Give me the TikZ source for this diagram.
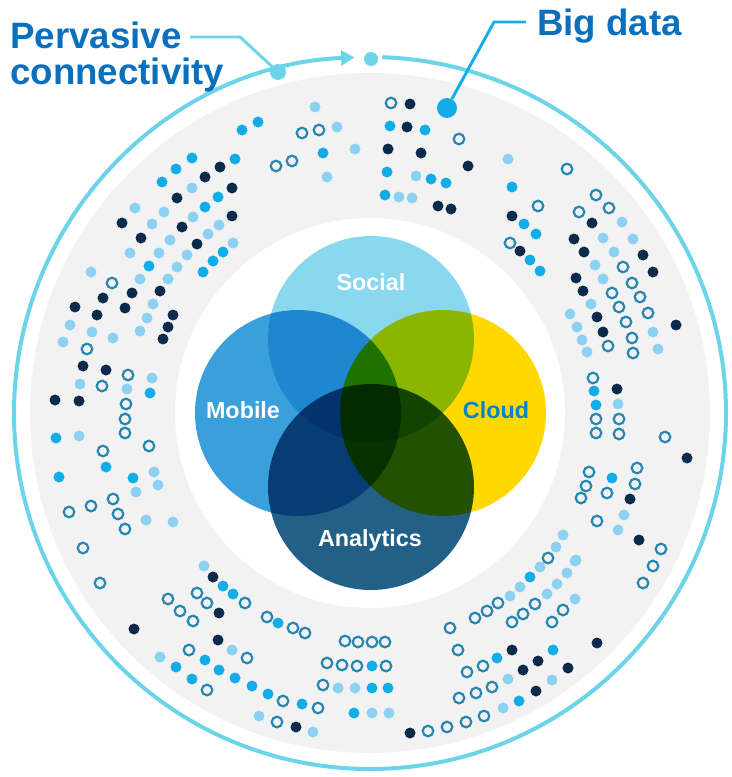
\documentclass[tikz,border=0pt]{standalone}
\usepackage{fontspec}
\setmainfont{Liberation Sans}
\usetikzlibrary{arrows.meta}

\definecolor{ringcyan}{RGB}{108,212,232}
\definecolor{labelblue}{RGB}{10,112,190}
\definecolor{bandgray}{RGB}{242,242,242}
\definecolor{navydot}{RGB}{12,42,76}
\definecolor{brightdot}{RGB}{18,172,232}
\definecolor{lightdot}{RGB}{140,208,242}
\definecolor{opendot}{RGB}{40,135,176}
\definecolor{socialc}{RGB}{138,216,240}
\definecolor{mobilec}{RGB}{58,160,220}
\definecolor{cloudc}{RGB}{255,216,0}
\definecolor{analyticsc}{RGB}{35,96,135}
\definecolor{cloudtext}{RGB}{8,130,200}

\tikzset{
  ring/.style={ringcyan, line width=3pt},
  leader/.style={ringcyan, line width=2.2pt},
  bdleader/.style={brightdot, line width=2.2pt},
  label/.style={labelblue, font=\bfseries\fontsize{27.5}{27}\selectfont, inner sep=0pt, align=left},
  venn/.style={white, font=\bfseries\fontsize{17.5}{17.5}\selectfont, inner sep=0pt},
  knob/.style={circle, fill=#1, inner sep=0pt},
  opencircle/.style={opendot, line width=1.65pt}
}

\begin{document}
\begin{tikzpicture}[x=0.75pt,y=-0.75pt]
\useasboundingbox (0,0) rectangle (731,777);
\coordinate (c) at (370,413);

% grey band and white core
\fill[bandgray] (c) circle[radius=340];
\fill[white] (c) circle[radius=195];

% outer ring, arrow at the top
\draw[ring,-{Triangle[length=10pt,width=11pt]}] (c) ++(-88:356) arc[start angle=-88,end angle=267.5,radius=356];
\node[knob=ringcyan, minimum size=10.5pt] (ringstart) at (371,59) {};

% dots in the band
\foreach \p in {(220,167),(205,177),(232,188),(177,198),(232,216),(122,223),(182,227),(141,238),(197,244),
  (160,291),(132,293),(103,298),(75,307),(97,315),(125,308),(173,315),(168,327),(163,339),(83,366),(106,370),
  (55,400),(79,401),(213,577),(219,613),(134,629),(218,640),(296,727),(410,733),(512,650),(523,670),(538,661),
  (568,668),(536,691),(597,643),(630,499),(639,540),(687,458),(512,216),(520,251),(592,223),(574,239),(584,252),
  (643,255),(653,272),(576,278),(583,291),(597,317),(676,325),(603,332),(617,389),(410,104),(407,127),(388,149),
  (421,153),(468,166),(438,206),(451,209)}
  \fill[navydot] \p circle[radius=5.5];

\foreach \p in {(242,130),(258,122),(192,158),(235,159),(176,169),(162,182),(218,197),(205,207),(223,252),
  (213,261),(203,272),(149,266),(150,393),(56,438),(106,467),(59,477),(133,478),(223,586),(233,594),(278,623),
  (205,660),(219,670),(235,678),(252,686),(268,694),(176,667),(192,679),(302,704),(372,666),(372,688),(388,688),
  (354,713),(530,577),(497,658),(553,650),(519,701),(612,478),(596,405),(512,187),(524,224),(536,234),(530,260),
  (540,271),(594,391),(323,153),(390,126),(425,130),(387,172),(431,179),(446,183),(385,195)}
  \fill[brightdot] \p circle[radius=5.5];

\foreach \p in {(192,188),(135,208),(164,212),(193,217),(152,224),(219,225),(208,234),(170,240),(233,243),
  (130,253),(159,253),(187,255),(91,272),(177,267),(140,279),(168,279),(153,304),(147,318),(70,325),(92,332),
  (113,338),(140,331),(63,342),(152,378),(80,384),(127,389),(79,436),(154,472),(158,485),(136,492),(146,520),
  (173,522),(204,566),(232,650),(160,657),(259,716),(313,732),(338,688),(355,688),(372,713),(389,713),(510,596),
  (520,587),(540,567),(547,594),(557,584),(567,573),(575,561),(575,599),(508,679),(552,680),(503,708),(618,404),
  (624,515),(618,530),(563,535),(556,547),(576,560),(508,159),(622,222),(603,238),(633,239),(614,252),(595,265),
  (603,279),(591,304),(570,314),(577,327),(653,332),(582,340),(658,349),(587,352),(315,107),(337,127),(355,149),
  (327,177),(416,176),(399,197),(412,198)}
  \fill[lightdot] \p circle[radius=5.5];

\foreach \p in {(112,283),(87,349),(128,375),(102,386),(126,404),(125,419),(125,433),(103,451),(149,446),
  (113,499),(91,506),(69,512),(118,514),(125,529),(83,548),(100,583),(168,599),(180,611),(193,621),(197,593),
  (207,603),(245,603),(267,617),(293,628),(305,633),(189,650),(247,658),(207,690),(283,701),(318,708),(277,722),
  (345,641),(358,642),(372,642),(385,642),(327,663),(342,665),(357,666),(386,666),(323,685),(450,628),(458,650),
  (475,618),(487,611),(498,603),(548,558),(512,622),(523,614),(535,604),(552,622),(563,610),(467,672),(483,666),
  (459,698),(476,693),(492,687),(428,731),(447,727),(466,722),(484,716),(643,583),(653,566),
  (661,549),(597,521),(581,498),(586,486),(589,472),(607,493),(635,484),(637,468),(665,437),(596,419),(619,419),
  (596,433),(619,434),(593,378),(608,346),(633,353),(632,338),(626,322),(648,313),(619,307),(640,297),(612,293),
  (632,283),(623,267),(579,212),(609,208),(596,195),(538,206),(510,243),(567,169),(302,133),(319,130),(276,166),
  (292,161),(391,103),(459,139)}
  \draw[opencircle] \p circle[radius=5.3];

% four overlapping circles
\begin{scope}[blend mode=multiply]
\fill[socialc] (371,339) circle[radius=103];
\fill[mobilec] (298,413) circle[radius=103];
\fill[cloudc] (443,413) circle[radius=103];
\fill[analyticsc] (371,487) circle[radius=103];
\end{scope}

\node[venn] (social) at (371,282) {Social};
\node[venn] (mobile) at (243,410) {Mobile};
\node[venn, text=cloudtext] (cloud) at (496,410) {Cloud};
\node[venn] (analytics) at (370,540) {Analytics};

% labels and their leaders
\node[label, anchor=north west] (pervasive) at (10,22) {Pervasive\\connectivity};
\node[label, anchor=north west] (bigdata) at (537,9) {Big data};

\coordinate (pcstart) at (190,37);
\coordinate (pcbend) at (240,37);
\node[knob=ringcyan, minimum size=12pt] (pcdot) at (278,72) {};
\draw[leader] (pcstart) -- (pcbend) -- (pcdot);

\coordinate (bdstart) at (526,22);
\coordinate (bdbend) at (494,22);
\node[knob=brightdot, minimum size=15pt] (bddot) at (447,108) {};
\draw[bdleader] (bdstart) -- (bdbend) -- (bddot);
\end{tikzpicture}
\end{document}
